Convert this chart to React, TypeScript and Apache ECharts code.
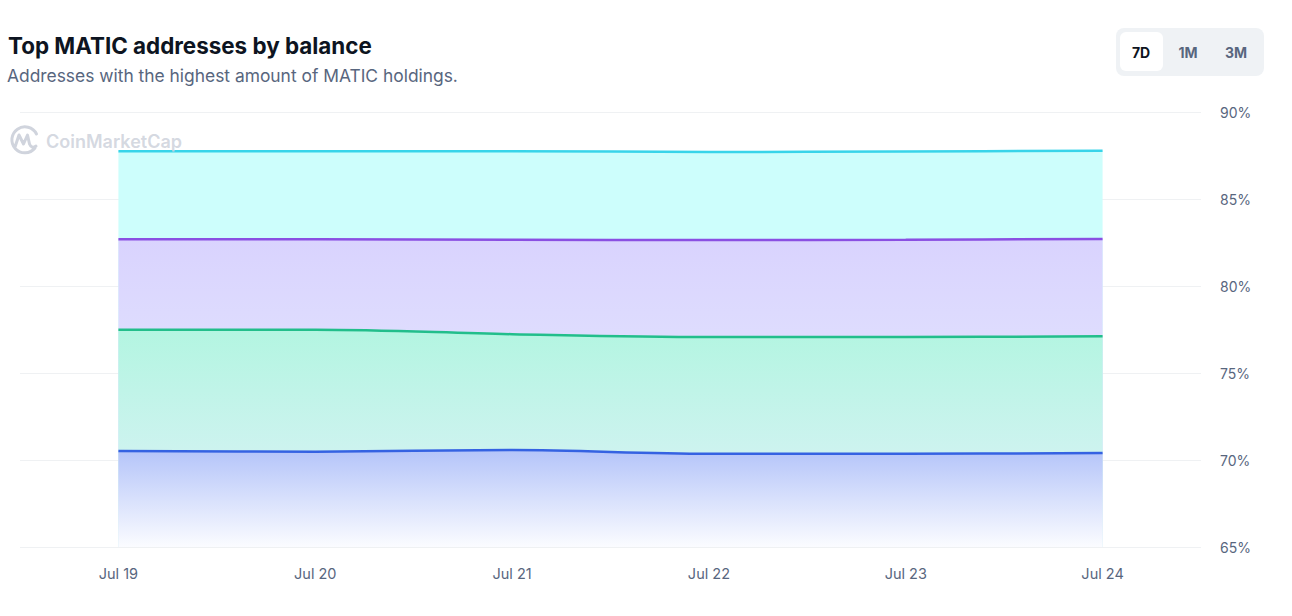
import React, { useEffect, useRef } from "react";
import * as echarts from "echarts";

const categories = ["Jul 19", "Jul 20", "Jul 21", "Jul 22", "Jul 23", "Jul 24"];
const top10 = [87.75, 87.75, 87.75, 87.7, 87.73, 87.78];
const top20 = [82.68, 82.69, 82.66, 82.64, 82.66, 82.7];
const top50 = [77.49, 77.49, 77.23, 77.07, 77.07, 77.11];
const top100 = [70.52, 70.48, 70.57, 70.36, 70.36, 70.4];
const yTicks = { min: 65, max: 90, interval: 5 };

const FONT = "Inter, 'Noto Sans', sans-serif";

const logoPath =
  "M27 23 A13 13 0 1 1 28.5 9 M7 22 L11 10 L15.5 19 L19.5 10 L21.5 19 Q23.5 24 28 21";

export default function App() {
  const ref = useRef<HTMLDivElement>(null);
  useEffect(() => {
    document.body.style.margin = "0";
    if (!ref.current) return;
    try {
      echarts.graphic.registerShape("logo", echarts.graphic.extendPath(logoPath, {}));
    } catch (e) {}
    const chart = echarts.init(ref.current, null, { renderer: "svg" });
    const mk = (name: string, data: number[], line: string, fill: any) => ({
      name,
      type: "line",
      data,
      smooth: 0.35,
      symbol: "none",
      lineStyle: { color: line, width: 2.5 },
      itemStyle: { color: line },
      areaStyle: { color: fill, opacity: 1, origin: "start" },
    });
    chart.setOption({
      animation: false,
      grid: { left: 20, right: 91, top: 112, bottom: 69 },
      xAxis: {
        type: "category",
        data: categories,
        boundaryGap: true,
        axisLine: { show: false },
        axisTick: { show: false },
        axisLabel: { color: "#58667e", fontSize: 14.5, fontFamily: FONT, margin: 19 },
      },
      yAxis: {
        type: "value",
        position: "right",
        min: yTicks.min,
        max: yTicks.max,
        interval: yTicks.interval,
        axisLine: { show: false },
        axisTick: { show: false },
        splitLine: { lineStyle: { color: "#eff1f3", width: 1 } },
        axisLabel: {
          color: "#58667e",
          fontSize: 14,
          fontFamily: FONT,
          margin: 19,
          formatter: (v: number) => v + "%",
        },
      },
      series: [
        mk("Top 10", top10, "#38d4e9", "#cdfefc"),
        mk("Top 20", top20, "#8a4fe2", new echarts.graphic.LinearGradient(0, 0, 0, 1, [
          { offset: 0, color: "#d9d3fe" },
          { offset: 0.3, color: "#dedcfe" },
          { offset: 1, color: "#e2e2fe" },
        ])),
        mk("Top 50", top50, "#22be8b", new echarts.graphic.LinearGradient(0, 0, 0, 1, [
          { offset: 0, color: "#b3f5e1" },
          { offset: 0.56, color: "#cdf3ef" },
          { offset: 1, color: "#dff5f5" },
        ])),
        mk("Top 100", top100, "#3562e2", new echarts.graphic.LinearGradient(0, 0, 0, 1, [
          { offset: 0, color: "#b4c4f9" },
          { offset: 1, color: "#fbfcff" },
        ])),
      ],
      graphic: [
        {
          type: "text",
          left: 8,
          top: 34,
          style: {
            text: "Top MATIC addresses by balance",
            fill: "#0d1421",
            font: `bold 22.4px ${FONT}`,
          },
        },
        {
          type: "text",
          left: 7,
          top: 67,
          style: {
            text: "Addresses with the highest amount of MATIC holdings.",
            fill: "#58667e",
            font: `17.4px ${FONT}`,
          },
        },
        {
          type: "rect",
          shape: { x: 1116, y: 28, width: 148, height: 48, r: 8 },
          style: { fill: "#eff2f5" },
        },
        {
          type: "rect",
          shape: { x: 1120, y: 32, width: 43, height: 39, r: 6 },
          style: { fill: "#ffffff" },
        },
        {
          type: "text",
          x: 1141,
          y: 52,
          style: { text: "7D", fill: "#0d1421", font: `bold 14px ${FONT}`, align: "center", verticalAlign: "middle" },
        },
        {
          type: "text",
          x: 1188,
          y: 52,
          style: { text: "1M", fill: "#58667e", font: `bold 14px ${FONT}`, align: "center", verticalAlign: "middle" },
        },
        {
          type: "text",
          x: 1236,
          y: 52,
          style: { text: "3M", fill: "#58667e", font: `bold 14px ${FONT}`, align: "center", verticalAlign: "middle" },
        },
        {
          type: "logo",
          x: 8,
          y: 125,
          z: 100,
          style: { stroke: "#d0d4dd", lineWidth: 3, fill: null, lineCap: "round", lineJoin: "round" },
        },
        {
          type: "text",
          x: 46,
          y: 141,
          z: 100,
          style: {
            text: "CoinMarketCap",
            fill: "#d0d4dd",
            font: `600 18px ${FONT}`,
            verticalAlign: "middle",
            opacity: 0.9,
          },
        },
      ],
    });
    return () => chart.dispose();
  }, []);
  return <div ref={ref} style={{ width: 1292, height: 616 }} />;
}
